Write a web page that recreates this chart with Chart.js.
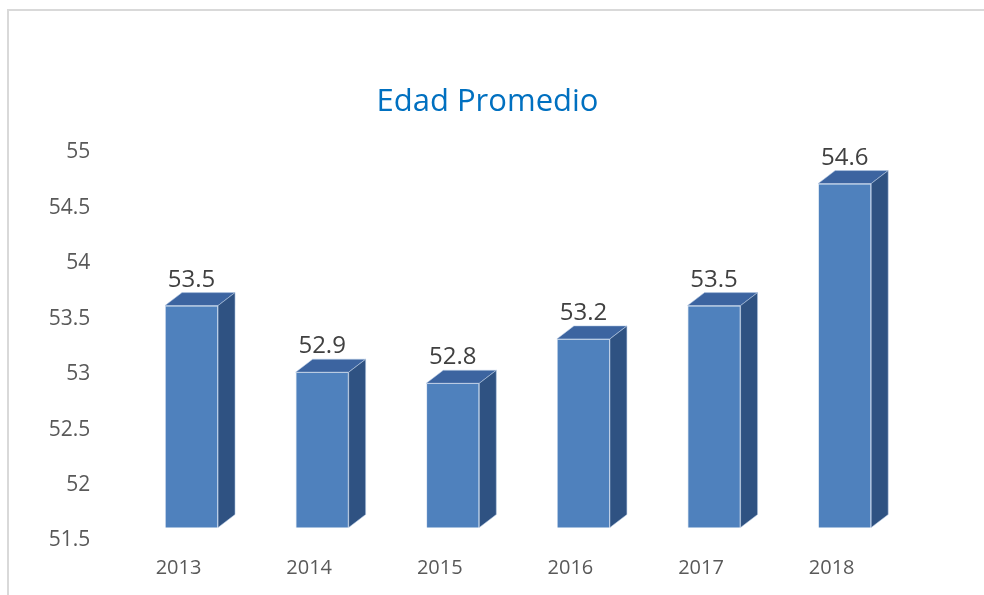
<!DOCTYPE html>
<html>
<head>
<meta charset="utf-8">
<script src="https://cdn.jsdelivr.net/npm/chart.js@4"></script>
<style>
  html, body { margin: 0; padding: 0; background: #ffffff; overflow: hidden; }
  #frame { position: absolute; left: 7px; top: 9px; width: 1200px; height: 900px;
           border-left: 2px solid #d9d9d9; border-top: 2px solid #d9d9d9; box-sizing: border-box; }
  #wrap { position: absolute; left: 0; top: 0; width: 984px; height: 595px; }
</style>
</head>
<body>
<div id="frame"></div>
<div id="wrap"><canvas id="c"></canvas></div>
<script>
const categories = ['2013', '2014', '2015', '2016', '2017', '2018'];
const edadPromedio = [53.5, 52.9, 52.8, 53.2, 53.5, 54.6];
const yTicks = [51.5, 52, 52.5, 53, 53.5, 54, 54.5, 55];
const titleText = 'Edad Promedio';

const DX = 17, DY = 13;

const bars3d = {
  id: 'bars3d',
  afterDatasetsDraw(chart) {
    const ctx = chart.ctx;
    const meta = chart.getDatasetMeta(0);
    const yScale = chart.scales.y;
    const floor = yScale.getPixelForValue(yScale.min);
    ctx.save();
    meta.data.forEach((bar, i) => {
      const p = bar.getProps(['x', 'y', 'width'], true);
      const l = p.x - p.width / 2, r = p.x + p.width / 2;
      const top = p.y, base = floor;
      ctx.lineWidth = 0.8;
      ctx.strokeStyle = 'rgba(185,205,229,0.7)';
      // top face
      ctx.beginPath();
      ctx.moveTo(l, top);
      ctx.lineTo(l + DX, top - DY);
      ctx.lineTo(r + DX, top - DY);
      ctx.lineTo(r, top);
      ctx.closePath();
      ctx.fillStyle = '#3C64A0';
      ctx.fill();
      ctx.stroke();
      // side face
      ctx.beginPath();
      ctx.moveTo(r, top);
      ctx.lineTo(r + DX, top - DY);
      ctx.lineTo(r + DX, base - DY);
      ctx.lineTo(r, base);
      ctx.closePath();
      ctx.fillStyle = '#2F5282';
      ctx.fill();
      ctx.stroke();
      // data label
      ctx.fillStyle = '#404040';
      ctx.font = '24px "Open Sans"';
      ctx.textAlign = 'center';
      ctx.textBaseline = 'alphabetic';
      ctx.fillText(String(edadPromedio[i]), p.x, top - DY - 6);
    });
    ctx.restore();
  }
};

function build() {
  new Chart(document.getElementById('c'), {
    type: 'bar',
    data: {
      labels: categories,
      datasets: [{
        data: edadPromedio,
        backgroundColor: '#4F81BD',
        borderColor: 'rgba(185,205,229,0.7)',
        borderWidth: 0.8,
        barPercentage: 0.406,
        categoryPercentage: 1.0
      }]
    },
    options: {
      responsive: true,
      maintainAspectRatio: false,
      animation: false,
      layout: { padding: { left: 0, right: 9, top: 0, bottom: 0 } },
      plugins: {
        legend: { display: false },
        tooltip: { enabled: false },
        title: {
          display: true,
          text: titleText,
          color: '#0070C0',
          font: { family: 'Open Sans', size: 31, weight: 'normal' },
          padding: { top: 84, bottom: 18 }
        }
      },
      scales: {
        x: {
          grid: { display: false },
          border: { display: false },
          ticks: {
            color: '#595959',
            font: { family: 'Open Sans', size: 20 },
            padding: 21,
            labelOffset: -13,
            maxRotation: 0
          },
          afterFit(s) { s.height = 67.5; }
        },
        y: {
          min: 51.5,
          max: 55,
          grid: { display: false },
          border: { display: false },
          ticks: {
            stepSize: 0.5,
            color: '#595959',
            font: { family: 'Open Sans', size: 21 },
            padding: 28,
            labelOffset: 13,
            callback: (v) => String(v)
          },
          afterBuildTicks(s) { s.ticks = yTicks.map(v => ({ value: v })); },
          afterFit(s) { s.width = 126.2; }
        },
        yRight: {
          position: 'right',
          display: true,
          grid: { display: false },
          border: { display: false },
          ticks: { display: false },
          afterFit(s) { s.width = 65; }
        }
      }
    },
    plugins: [bars3d]
  });
}

if (document.fonts && document.fonts.load) {
  Promise.all([
    document.fonts.load('31px "Open Sans"'),
    document.fonts.load('20px "Open Sans"'),
    document.fonts.load('21px "Open Sans"'),
    document.fonts.load('24px "Open Sans"')
  ]).then(build, build);
} else {
  build();
}
</script>
</body>
</html>
